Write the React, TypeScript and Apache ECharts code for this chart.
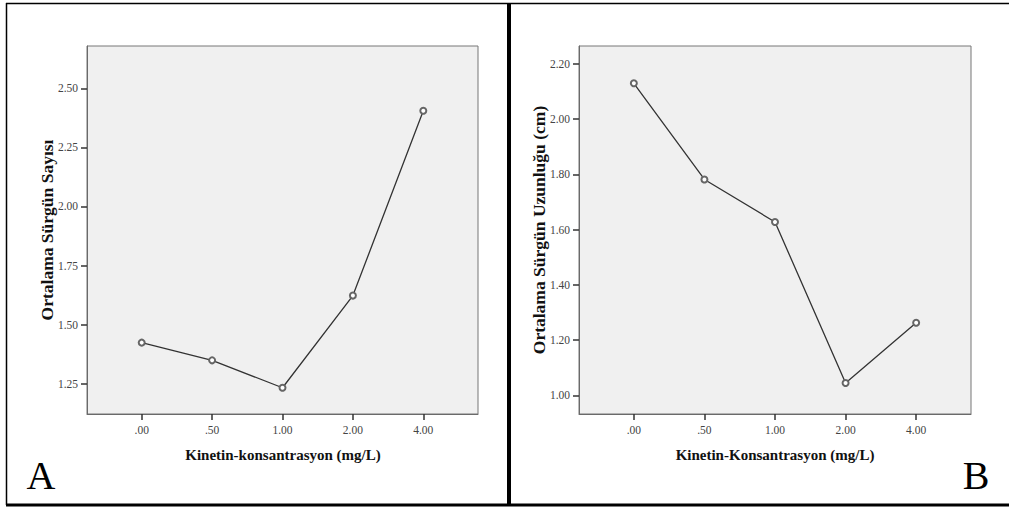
import React, { useEffect, useRef } from "react";
import * as echarts from "echarts";

const categories = [".00", ".50", "1.00", "2.00", "4.00"];
const shootCount = [1.424, 1.349, 1.233, 1.623, 2.405];
const shootLength = [2.13, 1.782, 1.628, 1.045, 1.263];
const ticksA = [1.25, 1.5, 1.75, 2.0, 2.25, 2.5];
const ticksB = [1.0, 1.2, 1.4, 1.6, 1.8, 2.0, 2.2];
const xTitleA = "Kinetin-konsantrasyon (mg/L)";
const xTitleB = "Kinetin-Konsantrasyon (mg/L)";
const yTitleA = "Ortalama Sürgün Sayısı";
const yTitleB = "Ortalama Sürgün Uzunluğu (cm)";

const serif = "'Liberation Serif', 'DejaVu Serif', serif";

export default function App() {
  const ref = useRef<HTMLDivElement>(null);
  useEffect(() => {
    if (!ref.current) return;
    const chart = echarts.init(ref.current, undefined, { renderer: "svg" });
    const idx = categories.map((_, i) => i);
    const xAxisBase = (gridIndex: number) => ({
      type: "value",
      gridIndex,
      min: -0.777,
      max: 4.777,
      axisLine: { show: true, onZero: false, lineStyle: { color: "#6a6a6a", width: 1 } },
      axisTick: { show: true, customValues: idx, length: 6, lineStyle: { color: "#333", width: 1.5 } },
      axisLabel: {
        customValues: idx,
        margin: 10,
        fontFamily: serif,
        fontSize: 11.5,
        color: "#444",
        formatter: (v: number) => categories[Math.round(v)] ?? "",
      },
      splitLine: { show: false },
    });
    const yAxisBase = (gridIndex: number, min: number, max: number, ticks: number[]) => ({
      type: "value",
      gridIndex,
      min,
      max,
      axisLine: { show: true, onZero: false, lineStyle: { color: "#6a6a6a", width: 1 } },
      axisTick: { show: true, customValues: ticks, length: 6, lineStyle: { color: "#333", width: 1.5 } },
      axisLabel: {
        customValues: ticks,
        margin: 9,
        fontFamily: serif,
        fontSize: 11.5,
        color: "#444",
        formatter: (v: number) => v.toFixed(2),
      },
      splitLine: { show: false },
    });
    const lineSeries = (i: number, data: number[]) => ({
      type: "line",
      xAxisIndex: i,
      yAxisIndex: i,
      data: data.map((v, k) => [k, v]),
      symbol: "emptyCircle",
      symbolSize: 6,
      lineStyle: { color: "#333", width: 1.3 },
      itemStyle: { color: "#666", borderColor: "#666", borderWidth: 1 },
    });
    chart.setOption({
      animation: false,
      backgroundColor: "#ffffff",
      grid: [
        { left: 87, top: 46, width: 391, height: 368, show: true, backgroundColor: "#f0f0f0", borderColor: "#777", borderWidth: 1 },
        { left: 579, top: 46, width: 392, height: 368, show: true, backgroundColor: "#f0f0f0", borderColor: "#777", borderWidth: 1 },
      ],
      xAxis: [xAxisBase(0), xAxisBase(1)],
      yAxis: [yAxisBase(0, 1.122, 2.679, ticksA), yAxisBase(1, 0.933, 2.265, ticksB)],
      series: [lineSeries(0, shootCount), lineSeries(1, shootLength)],
      graphic: [
        { type: "line", shape: { x1: 6, y1: 3.5, x2: 1009, y2: 3.5 }, style: { stroke: "#000", lineWidth: 1.5 } },
        { type: "line", shape: { x1: 6.5, y1: 3, x2: 6.5, y2: 505 }, style: { stroke: "#000", lineWidth: 1.5 } },
        { type: "line", shape: { x1: 6, y1: 505, x2: 1009, y2: 505 }, style: { stroke: "#000", lineWidth: 3 } },
        { type: "line", shape: { x1: 509, y1: 3, x2: 509, y2: 506 }, style: { stroke: "#000", lineWidth: 4 } },
        {
          type: "text", x: 47, y: 230, rotation: Math.PI / 2,
          style: { text: yTitleA, font: `bold 17.5px ${serif}`, fill: "#111", align: "center", verticalAlign: "middle" },
        },
        {
          type: "text", x: 539, y: 230, rotation: Math.PI / 2,
          style: { text: yTitleB, font: `bold 17.5px ${serif}`, fill: "#111", align: "center", verticalAlign: "middle" },
        },
        {
          type: "text", x: 283, y: 455,
          style: { text: xTitleA, font: `bold 15px ${serif}`, fill: "#111", align: "center", verticalAlign: "middle" },
        },
        {
          type: "text", x: 775, y: 455,
          style: { text: xTitleB, font: `bold 15px ${serif}`, fill: "#111", align: "center", verticalAlign: "middle" },
        },
        {
          type: "text", x: 41, y: 475,
          style: { text: "A", font: `40px ${serif}`, fill: "#000", align: "center", verticalAlign: "middle" },
        },
        {
          type: "text", x: 976, y: 475,
          style: { text: "B", font: `40px ${serif}`, fill: "#000", align: "center", verticalAlign: "middle" },
        },
      ],
    });
    return () => chart.dispose();
  }, []);
  return (
    <div
      ref={ref}
      style={{ position: "fixed", left: 0, top: 0, width: 1009, height: 507 }}
    />
  );
}
